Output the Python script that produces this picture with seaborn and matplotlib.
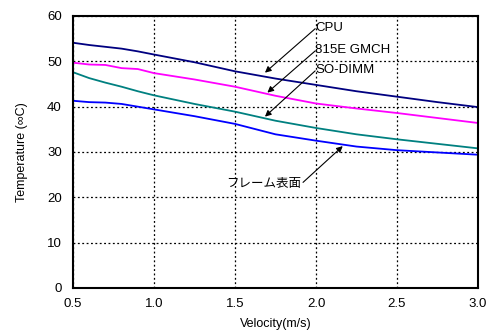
import matplotlib
matplotlib.use("Agg")
import matplotlib.pyplot as plt
import seaborn as sns
import pandas as pd

velocity = [0.5, 0.6, 0.7, 0.8, 0.9, 1.0, 1.25, 1.5, 1.75, 2.0, 2.25, 2.5, 2.75, 3.0]
cpu      = [54.1, 53.6, 53.2, 52.8, 52.2, 51.5, 49.8, 47.8, 46.2, 44.8, 43.4, 42.2, 41.0, 39.9]
gmch     = [49.7, 49.3, 49.2, 48.5, 48.3, 47.4, 46.0, 44.4, 42.4, 40.7, 39.6, 38.6, 37.5, 36.4]
sodimm   = [47.6, 46.3, 45.3, 44.4, 43.4, 42.5, 40.6, 38.9, 36.9, 35.3, 33.9, 32.8, 31.8, 30.8]
frame    = [41.3, 41.0, 40.9, 40.6, 40.0, 39.4, 37.9, 36.2, 33.9, 32.5, 31.2, 30.4, 29.9, 29.4]
series_names = ["CPU", "815E GMCH", "SO-DIMM", "フレーム表面"]
series_colors = ["#000080", "#FF00FF", "#008080", "#0000FF"]

sns.set_style("white")
plt.rcParams['font.family'] = ['Liberation Sans', 'Noto Sans CJK JP', 'DejaVu Sans']
plt.rcParams['text.color'] = 'black'
plt.rcParams['axes.labelcolor'] = 'black'
plt.rcParams['xtick.color'] = 'black'
plt.rcParams['ytick.color'] = 'black'

df = pd.DataFrame({"v": velocity * 4,
                   "t": cpu + gmch + sodimm + frame,
                   "s": sum([[n] * len(velocity) for n in series_names], [])})

fig = plt.figure(figsize=(4.91, 3.33), dpi=100)
ax = fig.add_axes([73/491, 1 - 288/333, (478-73)/491, (288-16)/333])
sns.lineplot(data=df, x="v", y="t", hue="s", palette=dict(zip(series_names, series_colors)),
             ax=ax, legend=False, linewidth=1.3)

ax.set_xlim(0.5, 3.0)
ax.set_ylim(0, 60)
ax.set_xticks([0.5, 1.0, 1.5, 2.0, 2.5, 3.0])
ax.set_xticklabels(["0.5", "1.0", "1.5", "2.0", "2.5", "3.0"])
ax.set_yticks(range(0, 61, 10))
ax.grid(True, color="black", linestyle=(0, (1.5, 2)), linewidth=0.9)
for s in ax.spines.values():
    s.set_visible(True)
    s.set_color("black")
    s.set_linewidth(1.5)
ax.tick_params(axis="both", length=0, labelsize=9.5, colors="black")
ax.tick_params(axis="x", pad=7)
ax.tick_params(axis="y", pad=8)
ax.set_xlabel("Velocity(m/s)", fontsize=9, labelpad=6)
ax.set_ylabel("Temperature (∞C)", fontsize=9, labelpad=14)

arrow = dict(arrowstyle="-|>", color="black", lw=0.8, mutation_scale=9, shrinkA=0, shrinkB=0)
ax.annotate("", xy=(1.685, 47.5), xytext=(1.995, 57.2), arrowprops=arrow)
ax.annotate("", xy=(1.70, 43.1), xytext=(1.995, 52.3), arrowprops=arrow)
ax.annotate("", xy=(1.685, 37.8), xytext=(1.995, 47.9), arrowprops=arrow)
ax.annotate("", xy=(2.165, 31.3), xytext=(1.92, 23.3), arrowprops=arrow)
ax.text(1.995, 57.3, "CPU", fontsize=9.5, ha="left", va="center")
ax.text(1.995, 52.4, "815E GMCH", fontsize=9.5, ha="left", va="center")
ax.text(1.995, 48.0, "SO-DIMM", fontsize=9.5, ha="left", va="center")
ax.text(1.91, 23.0, "フレーム表面", fontsize=9, ha="right", va="center")

fig.savefig("out.png", dpi=100)
